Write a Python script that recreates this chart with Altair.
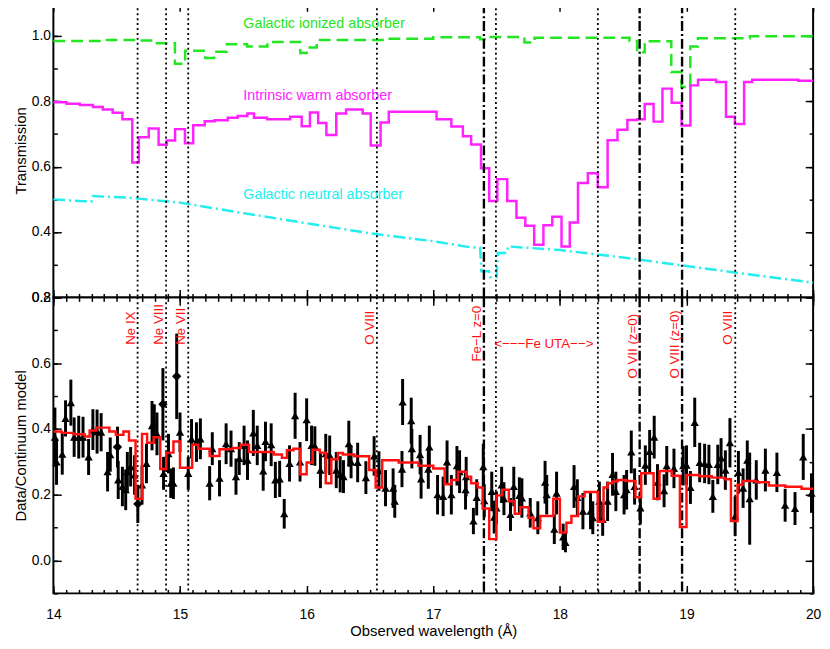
import altair as alt
import pandas as pd

FONT = "Liberation Sans"
GREEN = "#22e622"
MAGENTA = "#ff22ff"
CYAN = "#22eeee"
RED = "#ff1111"

# ---------------- top panel: transmission curves ----------------
ion_x = [14.00, 14.40, 14.66, 14.80, 14.96, 15.04, 15.20, 15.27, 15.37, 15.53, 15.69,
         15.95, 16.00, 16.08, 16.60, 17.00, 17.37, 17.42, 17.72, 17.80, 18.55, 18.61,
         18.67, 18.88, 18.96, 19.03, 19.09, 19.50, 20.00]
ion_y = [0.985, 0.988, 0.986, 0.978, 0.915, 0.955, 0.933, 0.952, 0.975, 0.968, 0.982,
         0.948, 0.965, 0.988, 0.992, 0.996, 0.990, 0.997, 0.980, 0.995, 0.985, 0.950,
         0.984, 0.890, 0.844, 0.968, 0.993, 0.999, 0.999]

warm_x = [14.000, 14.104, 14.208, 14.312, 14.390, 14.468, 14.545, 14.623, 14.675, 14.753,
          14.831, 14.896, 14.961, 15.039, 15.104, 15.195, 15.273, 15.377, 15.455, 15.532,
          15.584, 15.688, 15.870, 15.961, 16.026, 16.091, 16.156, 16.234, 16.312, 16.442,
          16.506, 16.584, 16.649, 17.026, 17.143, 17.234, 17.299, 17.377, 17.442, 17.506,
          17.584, 17.657, 17.727, 17.797, 17.870, 17.940, 18.013, 18.078, 18.143, 18.221,
          18.299, 18.377, 18.455, 18.533, 18.611, 18.670, 18.740, 18.810, 18.883, 18.961,
          19.031, 19.091, 19.234, 19.312, 19.382, 19.455, 19.519, 19.883, 20.000]
warm_y = [0.797, 0.793, 0.789, 0.783, 0.775, 0.765, 0.745, 0.613, 0.690, 0.717,
          0.667, 0.680, 0.715, 0.672, 0.727, 0.739, 0.742, 0.750, 0.755, 0.763,
          0.750, 0.745, 0.753, 0.724, 0.766, 0.734, 0.697, 0.763, 0.775, 0.763,
          0.665, 0.735, 0.768, 0.745, 0.723, 0.693, 0.668, 0.595, 0.495, 0.562,
          0.495, 0.444, 0.419, 0.361, 0.421, 0.447, 0.356, 0.429, 0.550, 0.580,
          0.537, 0.681, 0.713, 0.743, 0.745, 0.792, 0.738, 0.839, 0.796, 0.726,
          0.849, 0.866, 0.859, 0.753, 0.731, 0.859, 0.866, 0.863, 0.863]

neu_x = [14.00, 14.30, 14.31, 14.60, 15.00, 15.50, 16.00, 16.50, 17.00, 17.30, 17.37,
         17.38, 17.44, 17.45, 17.50, 17.51, 17.58, 17.59, 18.00, 18.50, 19.00, 19.50, 20.00]
neu_y = [0.500, 0.493, 0.510, 0.505, 0.490, 0.458, 0.427, 0.396, 0.372, 0.353, 0.352,
         0.280, 0.280, 0.262, 0.262, 0.336, 0.336, 0.356, 0.345, 0.322, 0.296, 0.270, 0.245]

# ---------------- bottom panel: data / continuum ----------------
pt_x = [14.012, 14.025, 14.070, 14.096, 14.138, 14.164, 14.200, 14.234, 14.278, 14.312,
        14.345, 14.377, 14.428, 14.449, 14.506, 14.512, 14.545, 14.571, 14.584, 14.610,
        14.641, 14.667, 14.700, 14.735, 14.779, 14.797, 14.818, 14.865, 14.870, 14.909,
        14.927, 14.948, 14.974, 15.000, 15.065, 15.091, 15.130, 15.161, 15.234, 15.255,
        15.312, 15.364, 15.403, 15.442, 15.468, 15.506,
        15.533, 15.579, 15.610, 15.657, 15.675, 15.720, 15.753, 15.787, 15.823, 15.865,
        15.909, 15.948, 16.000, 16.039, 16.065, 16.109, 16.151, 16.182, 16.234, 16.265,
        16.291, 16.333, 16.351, 16.403, 16.468, 16.533, 16.571, 16.623, 16.683, 16.696,
        16.753, 16.758, 16.826, 16.831, 16.896, 16.904, 16.961, 16.969, 17.034,
        17.078, 17.109, 17.143, 17.187, 17.208, 17.255, 17.260, 17.317, 17.343, 17.395,
        17.403, 17.462, 17.481, 17.499, 17.540, 17.558, 17.610, 17.636, 17.680, 17.700,
        17.766, 17.826, 17.883, 17.896, 17.956, 17.974, 18.026, 18.044, 18.112, 18.138,
        18.182, 18.242, 18.260, 18.312, 18.338, 18.377, 18.416, 18.442,
        18.507, 18.527, 18.564, 18.590, 18.636, 18.675, 18.709, 18.745, 18.771, 18.823,
        18.844, 18.901, 18.974, 19.000, 19.031, 19.065, 19.104, 19.143, 19.177, 19.208,
        19.247, 19.273, 19.307, 19.343, 19.384, 19.410, 19.447, 19.480, 19.499, 19.551,
        19.623, 19.714, 19.779, 19.857, 19.922, 19.987]
pt_y = [0.375, 0.300, 0.323, 0.432, 0.480, 0.375, 0.375, 0.375, 0.315, 0.398,
        0.392, 0.390, 0.270, 0.322, 0.345, 0.245, 0.225, 0.215, 0.270, 0.285,
        0.260, 0.172, 0.230, 0.295, 0.410, 0.415, 0.385, 0.475, 0.265, 0.325,
        0.235, 0.235, 0.560, 0.390, 0.265, 0.370, 0.360, 0.370, 0.235, 0.340,
        0.250, 0.355, 0.340, 0.255, 0.310, 0.350,
        0.305, 0.388, 0.350, 0.272, 0.362, 0.352, 0.245, 0.248, 0.142, 0.295,
        0.440, 0.300, 0.428, 0.350, 0.348, 0.275, 0.325, 0.320, 0.275, 0.262,
        0.255, 0.355, 0.300, 0.298, 0.252, 0.318, 0.272, 0.220, 0.220, 0.180,
        0.278, 0.482, 0.425, 0.340, 0.322, 0.248, 0.278, 0.345, 0.200,
        0.195, 0.300, 0.200, 0.288, 0.270, 0.215, 0.255, 0.120, 0.192, 0.285,
        0.182, 0.210, 0.132, 0.160, 0.230, 0.188, 0.140, 0.225, 0.198, 0.190,
        0.145, 0.130, 0.238, 0.200, 0.095, 0.205, 0.072, 0.055, 0.225, 0.192,
        0.150, 0.150, 0.130, 0.180, 0.125, 0.180, 0.262, 0.210,
        0.200, 0.215, 0.330, 0.225, 0.160, 0.290, 0.332, 0.375, 0.238, 0.212,
        0.288, 0.280, 0.288, 0.290, 0.222, 0.420, 0.298, 0.295, 0.292, 0.195,
        0.292, 0.312, 0.275, 0.358, 0.135, 0.268, 0.220, 0.305, 0.188, 0.245,
        0.275, 0.268, 0.168, 0.158, 0.315, 0.205]
pt_err = [0.090, 0.070, 0.062, 0.055, 0.070, 0.060, 0.065, 0.062, 0.055, 0.062,
          0.067, 0.058, 0.060, 0.052, 0.062, 0.058, 0.060, 0.062, 0.060, 0.060,
          0.060, 0.058, 0.060, 0.060, 0.075, 0.060, 0.065, 0.110, 0.050, 0.060,
          0.045, 0.048, 0.130, 0.060, 0.050, 0.060, 0.060, 0.062, 0.052, 0.050,
          0.055, 0.062, 0.055, 0.055, 0.050, 0.060,
          0.060, 0.070, 0.060, 0.060, 0.060, 0.065, 0.055, 0.055, 0.045, 0.055,
          0.070, 0.060, 0.065, 0.060, 0.060, 0.055, 0.060, 0.060, 0.055, 0.055,
          0.050, 0.070, 0.050, 0.060, 0.050, 0.060, 0.060, 0.055, 0.060, 0.050,
          0.055, 0.070, 0.070, 0.060, 0.060, 0.060, 0.060, 0.065, 0.060,
          0.060, 0.065, 0.060, 0.060, 0.065, 0.060, 0.060, 0.040, 0.055, 0.070,
          0.050, 0.060, 0.050, 0.050, 0.055, 0.050, 0.050, 0.060, 0.055, 0.060,
          0.045, 0.050, 0.065, 0.060, 0.045, 0.065, 0.040, 0.030, 0.065, 0.055,
          0.055, 0.055, 0.050, 0.060, 0.050, 0.060, 0.065, 0.060,
          0.060, 0.060, 0.065, 0.055, 0.050, 0.060, 0.065, 0.065, 0.055, 0.050,
          0.060, 0.060, 0.060, 0.060, 0.050, 0.075, 0.060, 0.060, 0.060, 0.050,
          0.060, 0.060, 0.060, 0.075, 0.060, 0.065, 0.060, 0.060, 0.140, 0.060,
          0.065, 0.060, 0.050, 0.050, 0.070, 0.060]
diamond_x = [14.506, 14.667, 14.865, 14.974]

mod_x = [14.000, 14.065, 14.156, 14.247, 14.286, 14.338, 14.442, 14.493, 14.553, 14.597,
         14.649, 14.700, 14.740, 14.792, 14.844, 14.891, 14.948, 15.000, 15.096, 15.143,
         15.234, 15.312, 15.416, 15.480, 15.545, 15.740, 15.805, 15.844, 15.896, 15.948,
         16.000, 16.047, 16.104, 16.151, 16.195, 16.247, 16.286, 16.377, 16.494, 16.545,
         16.597, 16.727, 16.883, 17.000, 17.090, 17.143, 17.195, 17.260, 17.299, 17.351,
         17.390, 17.442, 17.499, 17.545, 17.597, 17.644, 17.688, 17.753, 17.792, 17.844,
         17.948, 18.000, 18.052, 18.091, 18.143, 18.195, 18.299, 18.345, 18.377, 18.416,
         18.455, 18.520, 18.597, 18.642, 18.740, 18.787, 18.883, 18.948, 19.000, 19.100,
         19.200, 19.300, 19.351, 19.403, 19.442, 19.550, 19.650, 19.780, 19.909, 20.000]
mod_y = [0.392, 0.388, 0.384, 0.377, 0.395, 0.404, 0.392, 0.382, 0.392, 0.365,
         0.188, 0.385, 0.358, 0.375, 0.278, 0.328, 0.362, 0.282, 0.352, 0.340,
         0.318, 0.338, 0.342, 0.352, 0.330, 0.322, 0.312, 0.335, 0.340, 0.262,
         0.298, 0.337, 0.328, 0.235, 0.308, 0.327, 0.322, 0.317, 0.275, 0.222,
         0.305, 0.298, 0.288, 0.280, 0.232, 0.245, 0.270, 0.255, 0.235, 0.222,
         0.158, 0.065, 0.198, 0.215, 0.180, 0.142, 0.162, 0.130, 0.098, 0.135,
         0.188, 0.085, 0.115, 0.135, 0.195, 0.208, 0.118, 0.222, 0.235, 0.240,
         0.245, 0.242, 0.192, 0.265, 0.188, 0.272, 0.258, 0.102, 0.260, 0.256,
         0.252, 0.247, 0.120, 0.230, 0.242, 0.238, 0.228, 0.224, 0.218, 0.218]

# line identifications
dotted_x = [14.665, 14.89, 15.065, 16.555, 17.495, 18.30, 19.385]
dashdot_x = [17.40, 18.63, 18.965]
lab_text = ["Ne IX", "Ne VIII", "Ne VII", "O VIII", "Fe\u2212L z=0",
            "O VII (z=0)", "O VIII (z=0)", "O VIII"]
lab_x = [14.665, 14.89, 15.065, 16.555, 17.40, 18.63, 18.965, 19.385]
lab_y = [0.656, 0.656, 0.656, 0.656, 0.605, 0.553, 0.553, 0.656]
uta_text = ["<\u2212\u2212\u2212Fe UTA\u2212\u2212>"]
uta_x = [17.873]
uta_y = [0.659]

curve_names = ["Galactic ionized absorber", "Intrinsic warm absorber", "Galactic neutral absorber"]
curve_label_x = [15.50, 15.50, 15.50]
curve_label_y = [1.037, 0.816, 0.514]
curve_colors = [GREEN, MAGENTA, CYAN]

# tick positions
x_major = [14, 15, 16, 17, 18, 19, 20]
x_minor = [round(14 + 0.1 * i, 1) for i in range(61)]
top_major = [0.2, 0.4, 0.6, 0.8, 1.0]
top_minor = [round(0.2 + 0.1 * i, 1) for i in range(10)]
bot_major = [0.0, 0.2, 0.4, 0.6, 0.8]
bot_minor = [round(-0.1 + 0.1 * i, 1) for i in range(10)]

# ---------------- build ----------------
W = 770
MAJ, MIN = 8, 4
x_scale = alt.Scale(domain=[14, 20], nice=False, zero=False)
top_scale = alt.Scale(domain=[0.2, 1.1], nice=False, zero=False)
bot_scale = alt.Scale(domain=[-0.1, 0.8], nice=False, zero=False)


def lab_axis(vals, title, orient, fmt, pad=3):
    return alt.Axis(values=vals, format=fmt, labelOverlap=False, labelFlush=False,
                    tickSize=MAJ, offset=-MAJ, title=title, orient=orient, labelPadding=pad)


def blank_axis(vals, orient, size):
    return alt.Axis(values=vals, labels=False, tickSize=size, offset=-size, title=None, orient=orient)


def frame_layers(df, yscale, ymajor, yminor, xbottom_major):
    f1 = alt.Chart(df).mark_point(opacity=0).encode(
        x=alt.X("x:Q", scale=x_scale, axis=blank_axis(x_minor, "top", MIN), title=None),
        y=alt.Y("y:Q", scale=yscale, axis=blank_axis(yminor, "right", MIN), title=None))
    f2 = alt.Chart(df).mark_point(opacity=0).encode(
        x=alt.X("x:Q", scale=x_scale, axis=blank_axis(x_minor, "bottom", MIN), title=None),
        y=alt.Y("y:Q", scale=yscale, axis=blank_axis(yminor, "left", MIN), title=None))
    f3 = alt.Chart(df).mark_point(opacity=0).encode(
        x=alt.X("x:Q", scale=x_scale, axis=blank_axis(x_major, "top", MAJ), title=None),
        y=alt.Y("y:Q", scale=yscale, axis=blank_axis(ymajor, "right", MAJ), title=None))
    layers = [f1, f2, f3]
    if xbottom_major:
        layers.append(alt.Chart(df).mark_point(opacity=0).encode(
            x=alt.X("x:Q", scale=x_scale, axis=blank_axis(x_major, "bottom", MAJ), title=None),
            y=alt.Y("y:Q", scale=yscale, axis=None, title=None)))
    return layers


df_ion = pd.DataFrame({"x": ion_x, "y": ion_y})
df_warm = pd.DataFrame({"x": warm_x, "y": warm_y})
df_neu = pd.DataFrame({"x": neu_x, "y": neu_y})
df_dot = pd.DataFrame({"x": dotted_x})
df_dd = pd.DataFrame({"x": dashdot_x})
df_names = pd.DataFrame({"x": curve_label_x, "y": curve_label_y, "t": curve_names, "c": curve_colors})

Xt = alt.X("x:Q", scale=x_scale, axis=None, title=None)
Yt = alt.Y("y:Q", scale=top_scale, axis=lab_axis(top_major, "Transmission", "left", ".1f"),
           title="Transmission")

top_main = alt.layer(
    alt.Chart(df_ion).mark_line(interpolate="step-after", color=GREEN, strokeWidth=2.5,
                                strokeDash=[12, 6]).encode(x=Xt, y=Yt),
    alt.Chart(df_warm).mark_line(interpolate="step-after", color=MAGENTA, strokeWidth=2.5).encode(x=Xt, y=Yt),
    alt.Chart(df_neu).mark_line(color=CYAN, strokeWidth=2.5, strokeDash=[12, 4, 2, 4]).encode(x=Xt, y=Yt),
    alt.Chart(df_dot).mark_rule(color="black", strokeWidth=1.8, strokeDash=[2, 3]).encode(x=Xt),
    alt.Chart(df_dd).mark_rule(color="black", strokeWidth=2.4, strokeDash=[10, 3, 2, 3]).encode(x=Xt),
    alt.Chart(df_names).mark_text(align="left", baseline="middle", font=FONT, fontSize=14.5).encode(
        x=Xt, y=Yt, text="t:N", color=alt.Color("c:N", scale=None)),
)
top = alt.layer(top_main, *frame_layers(df_warm, top_scale, top_major, top_minor, True)).resolve_axis(
    x="independent", y="independent").properties(width=W, height=298)

pts = pd.DataFrame({"x": pt_x, "y": pt_y, "err": pt_err})
pts["lo"] = pts["y"] - pts["err"]
pts["hi"] = pts["y"] + pts["err"]
pts["dia"] = pts["x"].isin(diamond_x)
df_mod = pd.DataFrame({"x": mod_x, "y": mod_y})
df_lab = pd.DataFrame({"x": lab_x, "y": lab_y, "t": lab_text})
df_uta = pd.DataFrame({"x": uta_x, "y": uta_y, "t": uta_text})

x_axis = lab_axis(x_major, "Observed wavelength (\u00c5)", "bottom", "d", pad=14)
Xb = alt.X("x:Q", scale=x_scale, axis=x_axis, title="Observed wavelength (\u00c5)")
y_axis_b = lab_axis(bot_major, "Data/Continuum model", "left", ".1f")
Yb = alt.Y("y:Q", scale=bot_scale, axis=y_axis_b, title="Data/Continuum model")

bot_main = alt.layer(
    alt.Chart(df_dot).mark_rule(color="black", strokeWidth=1.8, strokeDash=[2, 3]).encode(x=Xb),
    alt.Chart(df_dd).mark_rule(color="black", strokeWidth=2.4, strokeDash=[10, 3, 2, 3]).encode(x=Xb),
    alt.Chart(pts).mark_rule(color="black", strokeWidth=3).encode(
        x=Xb, y=alt.Y("lo:Q", scale=bot_scale, axis=y_axis_b, title="Data/Continuum model"), y2="hi:Q"),
    alt.Chart(pts).transform_filter("!datum.dia").mark_point(
        shape="triangle-up", filled=True, size=70, color="black", opacity=1).encode(x=Xb, y=Yb),
    alt.Chart(pts).transform_filter("datum.dia").mark_point(
        shape="diamond", filled=True, size=90, color="black", opacity=1).encode(x=Xb, y=Yb),
    alt.Chart(df_mod).mark_line(interpolate="step-after", color=RED, strokeWidth=2.5).encode(x=Xb, y=Yb),
    alt.Chart(df_lab).mark_text(angle=270, align="left", baseline="bottom", color=RED,
                                font=FONT, fontSize=13.5).encode(x=Xb, y=Yb, text="t:N"),
    alt.Chart(df_uta).mark_text(align="center", baseline="middle", color=RED,
                                font=FONT, fontSize=13.5).encode(x=Xb, y=Yb, text="t:N"),
)
bottom = alt.layer(bot_main, *frame_layers(df_mod, bot_scale, bot_major, bot_minor, False)).resolve_axis(
    x="independent", y="independent").properties(width=W, height=300)

chart = alt.vconcat(top, bottom, spacing=0, bounds="flush").properties(
    padding={"left": 4, "top": -12, "right": 0, "bottom": 0}
).configure_view(stroke="black", strokeWidth=2).configure_axis(
    domain=False, grid=False, tickColor="black", tickWidth=1.5, labelColor="black",
    labelFont=FONT, labelFontSize=14, titleFont=FONT, titleFontSize=15,
    titleFontWeight="normal", titleColor="black", labelPadding=3, titlePadding=3
)

chart.save("out.html", embed_options={"renderer": "svg", "actions": False})
